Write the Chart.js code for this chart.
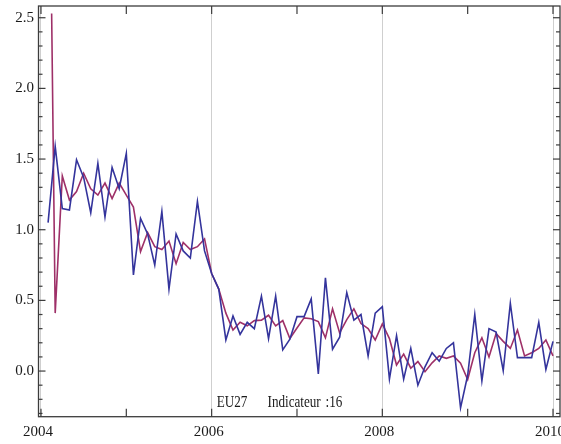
<!DOCTYPE html>
<html>
<head>
<meta charset="utf-8">
<script src="https://cdn.jsdelivr.net/npm/chart.js@4.4.1/dist/chart.umd.min.js"></script>
<style>
  html, body { margin: 0; padding: 0; background: #fff; }
  #wrap { width: 561px; height: 444px; position: relative; }
</style>
</head>
<body>
<div id="wrap"><canvas id="c" width="561" height="444"></canvas></div>
<script>
// ---- data (monthly index m, date = 2004 + m/12) ----
const blueStartMonth = 1;
const blueValues = [
  1.05, 1.59, 1.15, 1.14, 1.495, 1.37, 1.12, 1.47, 1.09, 1.44, 1.29, 1.54,
  0.68, 1.08, 0.97, 0.75, 1.13, 0.58, 0.97, 0.85, 0.80, 1.20, 0.85, 0.69,
  0.58, 0.22, 0.39, 0.26, 0.345, 0.30, 0.53, 0.23, 0.53, 0.15, 0.225, 0.385,
  0.385, 0.51, -0.02, 0.66, 0.155, 0.24, 0.555, 0.36, 0.40, 0.107, 0.41, 0.455,
  -0.057, 0.25, -0.057, 0.16, -0.10, 0.03, 0.13, 0.07, 0.16, 0.20, -0.26, -0.03,
  0.40, -0.07, 0.30, 0.276, 0.002, 0.48, 0.095, 0.095, 0.095, 0.345, 0.012, 0.21
];
const purpleFirstMonth = 1.5;
const purpleFirstValue = 2.53;
const purpleStartMonth = 2;
const purpleValues = [
  0.41, 1.38, 1.21, 1.27, 1.40, 1.29, 1.245, 1.33, 1.22, 1.33, 1.245,
  1.16, 0.845, 0.98, 0.88, 0.86, 0.92, 0.76, 0.91, 0.86, 0.88, 0.935, 0.69,
  0.58, 0.41, 0.29, 0.345, 0.32, 0.357, 0.36, 0.395, 0.32, 0.357, 0.23, 0.305,
  0.376, 0.37, 0.35, 0.235, 0.44, 0.27, 0.364, 0.44, 0.336, 0.30, 0.22, 0.333,
  0.23, 0.043, 0.12, 0.02, 0.067, -0.005, 0.058, 0.107, 0.09, 0.107, 0.055, -0.06,
  0.13, 0.235, 0.10, 0.265, 0.21, 0.16, 0.29, 0.107, 0.13, 0.16, 0.22, 0.107
];
const xTickLabels = [2004, 2006, 2008, 2010];
const xMajorYears = [2004, 2005, 2006, 2007, 2008, 2009, 2010];
const yTickLabels = [0.0, 0.5, 1.0, 1.5, 2.0, 2.5];
const baseYear = 2004;
const annotationParts = ['EU27', 'Indicateur', ':16'];

// ---- build series ----
const toDate = m => baseYear + m / 12;
const blueData = blueValues.map((v, i) => ({ x: toDate(blueStartMonth + i), y: v }));
const purpleData = [{ x: toDate(purpleFirstMonth), y: purpleFirstValue }]
  .concat(purpleValues.map((v, i) => ({ x: toDate(purpleStartMonth + i), y: v })));

const FONT = '"Liberation Serif", "Times New Roman", serif';

const framePlugin = {
  id: 'frame',
  afterDraw(chart) {
    const { ctx, chartArea: a, scales } = chart;
    const xs = scales.x, ys = scales.y;
    ctx.save();
    ctx.strokeStyle = '#3c3c3c';
    ctx.lineWidth = 1.3;
    ctx.strokeRect(a.left, a.top, a.right - a.left, a.bottom - a.top);
    ctx.lineWidth = 1.2;
    const seg = (x1, y1, x2, y2) => { ctx.beginPath(); ctx.moveTo(x1, y1); ctx.lineTo(x2, y2); ctx.stroke(); };
    xMajorYears.forEach(yr => {
      const px = xs.getPixelForValue(yr);
      seg(px, a.bottom, px, a.bottom - 8);
      seg(px, a.top, px, a.top + 8);
    });
    for (let i = -3; i <= 25; i++) {
      const py = ys.getPixelForValue(i / 10);
      const major = i % 5 === 0;
      seg(a.left, py, a.left + (major ? 7 : 4), py);
      seg(a.right, py, a.right - (major ? 7 : 4), py);
    }
    // annotation (slightly condensed serif, as in the reference)
    ctx.fillStyle = '#1a1a1a';
    ctx.font = '16px ' + FONT;
    ctx.textBaseline = 'alphabetic';
    ctx.textAlign = 'left';
    const ty = ys.getPixelForValue(-0.257);
    const put = (txt, yr) => {
      ctx.save();
      ctx.translate(xs.getPixelForValue(yr), ty);
      ctx.scale(0.82, 1);
      ctx.fillText(txt, 0, 0);
      ctx.restore();
    };
    put(annotationParts[0], 2006.06);
    put(annotationParts[1], 2006.655);
    put(annotationParts[2], 2007.335);
    ctx.restore();
  }
};

new Chart(document.getElementById('c'), {
  type: 'line',
  data: {
    datasets: [
      { data: blueData, borderColor: 'rgb(52,52,156)', borderWidth: 1.6, pointRadius: 0, tension: 0, fill: false },
      { data: purpleData, borderColor: 'rgb(158,48,104)', borderWidth: 1.6, pointRadius: 0, tension: 0, fill: false }
    ]
  },
  options: {
    responsive: false,
    animation: false,
    events: [],
    layout: { padding: { top: 6, right: 1, left: 0, bottom: 0 } },
    plugins: { legend: { display: false }, tooltip: { enabled: false }, title: { display: false } },
    scales: {
      x: {
        type: 'linear',
        min: 2003.971,
        max: 2010.082,
        afterBuildTicks: s => { s.ticks = xTickLabels.map(v => ({ value: v })); },
        afterFit: s => { s.height = 27.3; s.paddingLeft = 0; s.paddingRight = 0; },
        ticks: { callback: v => String(v), font: { family: FONT, size: 15 }, color: '#1a1a1a', padding: 6, labelOffset: -3, maxRotation: 0, autoSkip: false },
        grid: { color: '#cfcfcf', lineWidth: 1, drawTicks: false, drawOnChartArea: true },
        border: { display: false }
      },
      y: {
        type: 'linear',
        min: -0.323,
        max: 2.583,
        afterBuildTicks: s => { s.ticks = yTickLabels.map(v => ({ value: v })); },
        afterFit: s => { s.width = 38.5; s.paddingTop = 0; s.paddingBottom = 0; },
        ticks: { callback: v => Number(v).toFixed(1), font: { family: FONT, size: 15 }, color: '#1a1a1a', padding: 4.5 },
        grid: { display: false, drawTicks: false },
        border: { display: false }
      }
    }
  },
  plugins: [framePlugin]
});
</script>
</body>
</html>
